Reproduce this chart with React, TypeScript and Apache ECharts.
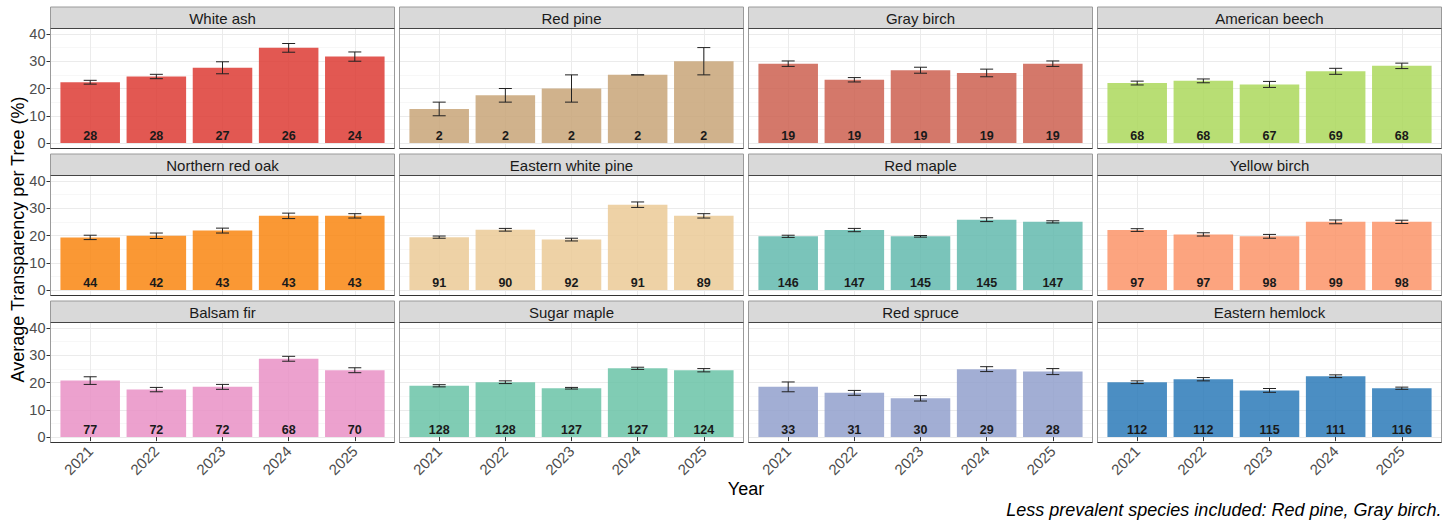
import React, { useEffect, useRef } from "react";
import * as echarts from "echarts";

// ---- data -------------------------------------------------------------
const years = ["2021", "2022", "2023", "2024", "2025"];
const yTicks = [0, 10, 20, 30, 40];

const meanWhiteAsh = [22.3, 24.4, 27.6, 34.9, 31.7];
const seWhiteAsh = [0.7, 0.8, 2.2, 1.6, 1.7];
const nWhiteAsh = [28, 28, 27, 26, 24];

const meanRedPine = [12.5, 17.5, 20, 25, 30];
const seRedPine = [2.5, 2.5, 5, 0, 5];
const nRedPine = [2, 2, 2, 2, 2];

const meanGrayBirch = [29.1, 23.2, 26.7, 25.7, 29.1];
const seGrayBirch = [1.0, 0.8, 1.1, 1.4, 1.0];
const nGrayBirch = [19, 19, 19, 19, 19];

const meanAmericanBeech = [22.0, 22.8, 21.5, 26.3, 28.3];
const seAmericanBeech = [0.7, 0.7, 1.1, 1.1, 1.0];
const nAmericanBeech = [68, 68, 67, 69, 68];

const meanNorthernRedOak = [19.3, 19.9, 21.8, 27.2, 27.2];
const seNorthernRedOak = [0.8, 1.0, 0.9, 1.0, 0.8];
const nNorthernRedOak = [44, 42, 43, 43, 43];

const meanEasternWhitePine = [19.4, 22.1, 18.5, 31.3, 27.2];
const seEasternWhitePine = [0.4, 0.5, 0.5, 1.0, 0.8];
const nEasternWhitePine = [91, 90, 92, 91, 89];

const meanRedMaple = [19.7, 22.0, 19.7, 25.8, 25.0];
const seRedMaple = [0.4, 0.6, 0.3, 0.7, 0.4];
const nRedMaple = [146, 147, 145, 145, 147];

const meanYellowBirch = [22.0, 20.4, 19.7, 25.0, 25.0];
const seYellowBirch = [0.5, 0.6, 0.7, 0.7, 0.6];
const nYellowBirch = [97, 97, 98, 99, 98];

const meanBalsamFir = [20.7, 17.4, 18.4, 28.7, 24.5];
const seBalsamFir = [1.4, 0.8, 0.9, 0.9, 0.9];
const nBalsamFir = [77, 72, 72, 68, 70];

const meanSugarMaple = [18.8, 20.1, 17.9, 25.2, 24.5];
const seSugarMaple = [0.4, 0.5, 0.3, 0.4, 0.6];
const nSugarMaple = [128, 128, 127, 127, 124];

const meanRedSpruce = [18.4, 16.2, 14.2, 24.9, 24.0];
const seRedSpruce = [1.8, 0.9, 1.0, 0.9, 1.1];
const nRedSpruce = [33, 31, 30, 29, 28];

const meanEasternHemlock = [20.1, 21.2, 17.1, 22.3, 17.9];
const seEasternHemlock = [0.5, 0.6, 0.7, 0.5, 0.4];
const nEasternHemlock = [112, 112, 115, 111, 116];

const panels = [
  { name: "White ash", color: "#DD3B34", mean: meanWhiteAsh, se: seWhiteAsh, n: nWhiteAsh },
  { name: "Red pine", color: "#C8A578", mean: meanRedPine, se: seRedPine, n: nRedPine },
  { name: "Gray birch", color: "#CD6050", mean: meanGrayBirch, se: seGrayBirch, n: nGrayBirch },
  { name: "American beech", color: "#ABD85C", mean: meanAmericanBeech, se: seAmericanBeech, n: nAmericanBeech },
  { name: "Northern red oak", color: "#F98610", mean: meanNorthernRedOak, se: seNorthernRedOak, n: nNorthernRedOak },
  { name: "Eastern white pine", color: "#EBCA97", mean: meanEasternWhitePine, se: seEasternWhitePine, n: nEasternWhitePine },
  { name: "Red maple", color: "#63BAAE", mean: meanRedMaple, se: seRedMaple, n: nRedMaple },
  { name: "Yellow birch", color: "#FB9468", mean: meanYellowBirch, se: seYellowBirch, n: nYellowBirch },
  { name: "Balsam fir", color: "#E990C6", mean: meanBalsamFir, se: seBalsamFir, n: nBalsamFir },
  { name: "Sugar maple", color: "#6AC3A7", mean: meanSugarMaple, se: seSugarMaple, n: nSugarMaple },
  { name: "Red spruce", color: "#92A0CD", mean: meanRedSpruce, se: seRedSpruce, n: nRedSpruce },
  { name: "Eastern hemlock", color: "#2C7AB8", mean: meanEasternHemlock, se: seEasternHemlock, n: nEasternHemlock },
];

// ---- layout -----------------------------------------------------------
const FONT = "'Liberation Sans', Arial, Helvetica, sans-serif";
const W = 1449;
const H = 521;
const COLS = 4;
const PANEL_LEFT = 50.5;
const PANEL_STEP_X = 349;
const PANEL_W = 344;
const STRIP_TOP = 7;
const PANEL_STEP_Y = 147;
const STRIP_H = 21.5;
const PLOT_H = 120;
const Y_LO = -2;
const Y_HI = 42;
const Y_MAX_TICK = yTicks[yTicks.length - 1];

function withAlpha(hex: string, a: number) {
  const v = parseInt(hex.slice(1), 16);
  return `rgba(${(v >> 16) & 255},${(v >> 8) & 255},${v & 255},${a})`;
}

function buildOption() {
  const grid: any[] = [];
  const xAxis: any[] = [];
  const yAxis: any[] = [];
  const series: any[] = [];
  const graphic: any[] = [];

  const unitX = PANEL_W / (years.length + 0.2);
  const unitY = PLOT_H / (Y_HI - Y_LO);
  const rows = Math.ceil(panels.length / COLS);

  panels.forEach((p, i) => {
    const r = Math.floor(i / COLS);
    const c = i % COLS;
    const left = PANEL_LEFT + c * PANEL_STEP_X;
    const stripTop = STRIP_TOP + r * PANEL_STEP_Y;
    const top = stripTop + STRIP_H;
    const bottomRow = r === rows - 1;

    // horizontal gridlines + y axis (full panel width, 0..40)
    grid.push({
      left,
      top: top + (Y_HI - Y_MAX_TICK) * unitY,
      width: PANEL_W,
      height: Y_MAX_TICK * unitY,
      containLabel: false,
    });
    // bars, error bars, vertical gridlines (categories at the inner ends)
    grid.push({
      left: left + 0.6 * unitX,
      top,
      width: (years.length - 1) * unitX,
      height: PLOT_H,
      containLabel: false,
    });
    const gA = 2 * i;
    const gB = 2 * i + 1;

    xAxis.push({ gridIndex: gA, type: "value", min: 0, max: 1, show: false });
    yAxis.push({
      gridIndex: gA,
      type: "value",
      min: 0,
      max: Y_MAX_TICK,
      interval: 10,
      axisLine: { show: false },
      axisTick: { show: c === 0, length: 4, lineStyle: { color: "#333333", width: 1 } },
      axisLabel: {
        show: c === 0,
        fontSize: 14.5,
        color: "#4D4D4D",
        fontFamily: FONT,
        margin: 5,
      },
      splitLine: { show: true, lineStyle: { color: "#EBEBEB", width: 1 } },
      minorTick: { show: false, splitNumber: 2 },
      minorSplitLine: { show: true, lineStyle: { color: "#F4F4F4", width: 0.7 } },
    });

    xAxis.push({
      gridIndex: gB,
      type: "category",
      data: years,
      boundaryGap: false,
      axisLine: { show: false },
      axisTick: { show: bottomRow, length: 4, lineStyle: { color: "#333333", width: 1 } },
      axisLabel: {
        show: bottomRow,
        rotate: 45,
        fontSize: 15,
        color: "#4D4D4D",
        fontFamily: FONT,
        margin: 6,
      },
      splitLine: { show: true, lineStyle: { color: "#EBEBEB", width: 1 } },
    });
    yAxis.push({ gridIndex: gB, type: "value", min: Y_LO, max: Y_HI, show: false });

    series.push({
      type: "bar",
      name: p.name,
      xAxisIndex: gB,
      yAxisIndex: gB,
      data: p.mean,
      barWidth: "90%",
      clip: false,
      silent: true,
      itemStyle: { color: withAlpha(p.color, 0.85) },
      label: {
        show: true,
        position: "insideBottom",
        distance: 1,
        formatter: (d: any) => String(p.n[d.dataIndex]),
        fontSize: 12.5,
        fontWeight: "bold",
        color: "#1A1A1A",
        fontFamily: FONT,
      },
      z: 2,
    });

    series.push({
      type: "custom",
      name: p.name + " SE",
      xAxisIndex: gB,
      yAxisIndex: gB,
      silent: true,
      clip: false,
      encode: { x: 0, y: [1, 2] },
      data: p.mean.map((m, k) => [k, m - p.se[k], m + p.se[k]]),
      renderItem: (_params: any, api: any) => {
        const lo = api.coord([api.value(0), api.value(1)]);
        const hi = api.coord([api.value(0), api.value(2)]);
        const hw = 6.5;
        const style = { stroke: "#222222", lineWidth: 1, fill: "none" };
        return {
          type: "group",
          children: [
            { type: "line", shape: { x1: hi[0], y1: hi[1], x2: lo[0], y2: lo[1] }, style },
            { type: "line", shape: { x1: hi[0] - hw, y1: hi[1], x2: hi[0] + hw, y2: hi[1] }, style },
            { type: "line", shape: { x1: lo[0] - hw, y1: lo[1], x2: lo[0] + hw, y2: lo[1] }, style },
          ],
        };
      },
      z: 4,
    });

    // panel frame and facet strip
    graphic.push({
      type: "rect",
      shape: { x: left, y: top, width: PANEL_W, height: PLOT_H },
      style: { fill: "none", stroke: "#9A9A9A", lineWidth: 1 },
      silent: true,
      z: 10,
    });
    graphic.push({
      type: "line",
      shape: { x1: left, y1: top + PLOT_H, x2: left + PANEL_W, y2: top + PLOT_H },
      style: { stroke: "#333333", lineWidth: 1 },
      silent: true,
      z: 11,
    });
    graphic.push({
      type: "rect",
      shape: { x: left, y: stripTop, width: PANEL_W, height: STRIP_H },
      style: { fill: "#D9D9D9", stroke: "#9A9A9A", lineWidth: 1 },
      silent: true,
      z: 10,
    });
    graphic.push({
      type: "line",
      shape: { x1: left, y1: top, x2: left + PANEL_W, y2: top },
      style: { stroke: "#444444", lineWidth: 1 },
      silent: true,
      z: 11,
    });
    graphic.push({
      type: "text",
      x: left + PANEL_W / 2,
      y: stripTop + STRIP_H / 2 + 0.5,
      style: {
        text: p.name,
        fontSize: 15,
        fontFamily: FONT,
        fill: "#1A1A1A",
        align: "center",
        verticalAlign: "middle",
      },
      silent: true,
      z: 12,
    });
  });

  const firstLeft = PANEL_LEFT;
  const lastRight = PANEL_LEFT + (COLS - 1) * PANEL_STEP_X + PANEL_W;
  const plotsTop = STRIP_TOP;
  const plotsBottom = STRIP_TOP + (rows - 1) * PANEL_STEP_Y + STRIP_H + PLOT_H;

  graphic.push({
    type: "text",
    x: 18,
    y: (plotsTop + STRIP_H + plotsBottom) / 2 + 4,
    rotation: Math.PI / 2,
    style: {
      text: "Average Transparency per Tree (%)",
      fontSize: 18,
      fontFamily: FONT,
      fill: "#000000",
      align: "center",
      verticalAlign: "middle",
    },
    silent: true,
  });
  graphic.push({
    type: "text",
    x: (firstLeft + lastRight) / 2,
    y: 489,
    style: {
      text: "Year",
      fontSize: 18,
      fontFamily: FONT,
      fill: "#000000",
      align: "center",
      verticalAlign: "middle",
    },
    silent: true,
  });
  graphic.push({
    type: "text",
    x: lastRight,
    y: 510,
    style: {
      text: "Less prevalent species included: Red pine, Gray birch.",
      fontSize: 18,
      fontStyle: "italic",
      fontFamily: FONT,
      fill: "#000000",
      align: "right",
      verticalAlign: "middle",
    },
    silent: true,
  });

  return {
    animation: false,
    backgroundColor: "#FFFFFF",
    textStyle: { fontFamily: FONT },
    grid,
    xAxis,
    yAxis,
    series,
    graphic,
  };
}

export default function App() {
  const ref = useRef<HTMLDivElement>(null);

  useEffect(() => {
    document.body.style.margin = "0";
    if (!ref.current) return;
    const chart = echarts.init(ref.current, undefined, { renderer: "svg" });
    chart.setOption(buildOption() as any);
    return () => chart.dispose();
  }, []);

  return <div ref={ref} style={{ width: W, height: H }} />;
}
